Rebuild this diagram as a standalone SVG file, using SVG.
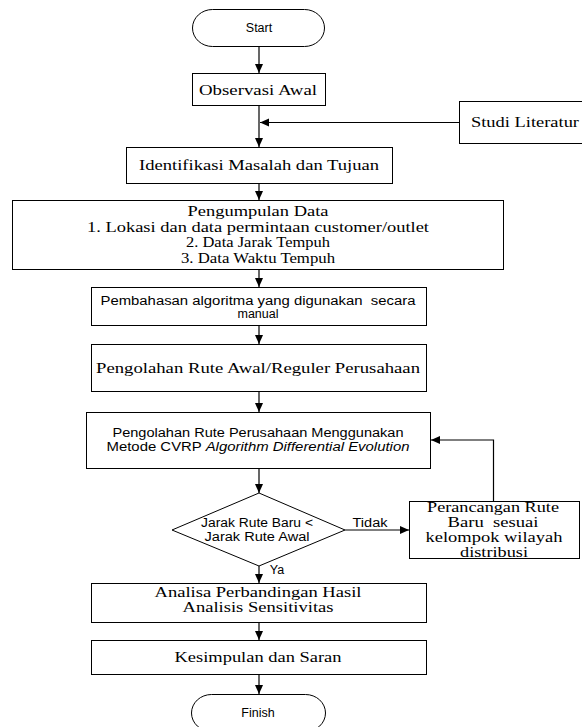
<svg xmlns="http://www.w3.org/2000/svg" width="582" height="727" viewBox="0 0 582 727">
<defs>
<marker id="ah" markerUnits="userSpaceOnUse" markerWidth="10" markerHeight="10" refX="9" refY="4" orient="auto">
<path d="M0,0 L9,4 L0,8 Z" fill="#000"/>
</marker>
<style>
.b{fill:#fff;stroke:#000;stroke-width:1}
.c{fill:none;stroke:#000;stroke-width:1.2;marker-end:url(#ah)}
.t{font-family:"Liberation Serif","Times New Roman",serif;font-size:15px;fill:#000;text-anchor:middle}
.a{font-family:"Liberation Sans",Arial,sans-serif;font-size:12.5px;fill:#000;text-anchor:middle}
.s{font-family:"Liberation Sans",Arial,sans-serif;font-size:12.5px;fill:#000;text-anchor:middle}
</style>
</defs>
<rect width="582" height="727" fill="#fff"/>
<g id="connectors">
<line class="c" x1="259" y1="47" x2="259" y2="73"/>
<line class="c" x1="259" y1="105" x2="259" y2="147"/>
<line class="c" x1="459" y1="122.5" x2="260" y2="122.5"/>
<line class="c" x1="259" y1="183" x2="259" y2="200"/>
<line class="c" x1="259" y1="269" x2="259" y2="287"/>
<line class="c" x1="259" y1="325" x2="259" y2="344"/>
<line class="c" x1="259" y1="391" x2="259" y2="412"/>
<line class="c" x1="259" y1="468" x2="259" y2="493"/>
<line class="c" x1="345" y1="530" x2="409" y2="530"/>
<polyline class="c" points="493.5,501 493.5,440 431,440"/>
<line class="c" x1="259" y1="566" x2="259" y2="583"/>
<line class="c" x1="259" y1="622" x2="259" y2="640"/>
<line class="c" x1="259" y1="674" x2="259" y2="694"/>
<text class="s" x="370" y="527" textLength="35" lengthAdjust="spacingAndGlyphs">Tidak</text>
<text class="s" x="277" y="574">Ya</text>
</g>
<g id="start">
<rect class="b" x="192.5" y="9.5" width="132" height="37" rx="20" ry="18.5"/>
<text class="s" x="259" y="32">Start</text>
</g>
<g id="observasi">
<rect class="b" x="192.5" y="73.5" width="133" height="32"/>
<text class="t" x="258" y="95" textLength="118" lengthAdjust="spacingAndGlyphs">Observasi Awal</text>
</g>
<g id="studi">
<rect class="b" x="459.5" y="101.5" width="126" height="42"/>
<text class="t" x="525" y="127" textLength="108" lengthAdjust="spacingAndGlyphs">Studi Literatur</text>
</g>
<g id="identifikasi">
<rect class="b" x="126.5" y="147.5" width="266" height="36"/>
<text class="t" x="259" y="170" textLength="240" lengthAdjust="spacingAndGlyphs">Identifikasi Masalah dan Tujuan</text>
</g>
<g id="pengumpulan">
<rect class="b" x="12.5" y="200.5" width="491" height="69"/>
<text class="t" x="258" y="216" textLength="141" lengthAdjust="spacingAndGlyphs">Pengumpulan Data</text>
<text class="t" x="258" y="232" textLength="342" lengthAdjust="spacingAndGlyphs">1. Lokasi dan data permintaan customer/outlet</text>
<text class="t" x="258" y="247" textLength="144" lengthAdjust="spacingAndGlyphs">2. Data Jarak Tempuh</text>
<text class="t" x="258" y="263" textLength="154" lengthAdjust="spacingAndGlyphs">3. Data Waktu Tempuh</text>
</g>
<g id="pembahasan">
<rect class="b" x="91.5" y="287.5" width="335" height="38"/>
<text class="a" x="258" y="305" xml:space="preserve" textLength="315" lengthAdjust="spacingAndGlyphs">Pembahasan algoritma yang digunakan  secara</text>
<text class="a" x="258" y="318">manual</text>
</g>
<g id="pengolahan-awal">
<rect class="b" x="91.5" y="344.5" width="335" height="47"/>
<text class="t" x="258" y="373" textLength="324" lengthAdjust="spacingAndGlyphs">Pengolahan Rute Awal/Reguler Perusahaan</text>
</g>
<g id="metode">
<rect class="b" x="86.5" y="412.5" width="344" height="56"/>
<text class="a" x="258" y="437" textLength="291" lengthAdjust="spacingAndGlyphs">Pengolahan Rute Perusahaan Menggunakan</text>
<text class="a" x="258" y="451" textLength="303" lengthAdjust="spacingAndGlyphs">Metode CVRP <tspan font-style="italic">Algorithm Differential Evolution</tspan></text>
</g>
<g id="keputusan">
<polygon class="b" points="259,493 345,530 259,566 172,530"/>
<text class="a" x="257" y="527" textLength="112" lengthAdjust="spacingAndGlyphs">Jarak Rute Baru &lt;</text>
<text class="a" x="257" y="541" textLength="105" lengthAdjust="spacingAndGlyphs">Jarak Rute Awal</text>
</g>
<g id="perancangan">
<rect class="b" x="409.5" y="501.5" width="170" height="57"/>
<text class="t" x="493" y="512" textLength="132" lengthAdjust="spacingAndGlyphs">Perancangan Rute</text>
<text class="t" x="493" y="527" xml:space="preserve" textLength="91" lengthAdjust="spacingAndGlyphs">Baru  sesuai</text>
<text class="t" x="494" y="542" textLength="137" lengthAdjust="spacingAndGlyphs">kelompok wilayah</text>
<text class="t" x="494" y="557" textLength="68" lengthAdjust="spacingAndGlyphs">distribusi</text>
</g>
<g id="analisa">
<rect class="b" x="91.5" y="583.5" width="335" height="39"/>
<text class="t" x="258" y="597" textLength="207" lengthAdjust="spacingAndGlyphs">Analisa Perbandingan Hasil</text>
<text class="t" x="258" y="612" textLength="151" lengthAdjust="spacingAndGlyphs">Analisis Sensitivitas</text>
</g>
<g id="kesimpulan">
<rect class="b" x="91.5" y="640.5" width="335" height="34"/>
<text class="t" x="258" y="662" textLength="167" lengthAdjust="spacingAndGlyphs">Kesimpulan dan Saran</text>
</g>
<g id="finish">
<rect class="b" x="191.5" y="694.5" width="134" height="37" rx="20" ry="18.5"/>
<text class="s" x="258" y="717">Finish</text>
</g>
</svg>
